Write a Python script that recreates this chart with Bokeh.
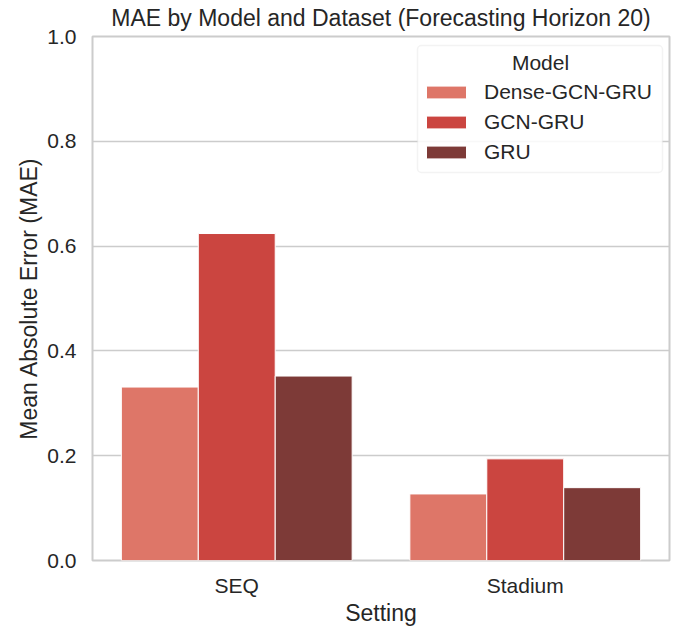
from bokeh.plotting import figure
from bokeh.models import (ColumnDataSource, FactorRange, Legend, LegendItem,
                          Label, BoxAnnotation, NumeralTickFormatter, FixedTicker)
from bokeh.transform import dodge
from bokeh.embed import file_html
from bokeh.resources import INLINE

# Data
settings = ["SEQ", "Stadium"]
models = ["Dense-GCN-GRU", "GCN-GRU", "GRU"]
mae_dense_gcn_gru = [0.331, 0.127]
mae_gcn_gru = [0.624, 0.194]
mae_gru = [0.352, 0.139]
colors = ["#de7668", "#cb4540", "#7d3a37"]
y_ticks = [0.0, 0.2, 0.4, 0.6, 0.8, 1.0]

FONT = "Liberation Sans"
TEXT = "#262626"
GRID = "#cccccc"

src = ColumnDataSource(dict(
    setting=settings,
    dense=mae_dense_gcn_gru,
    gcn=mae_gcn_gru,
    gru=mae_gru,
))

p = figure(
    x_range=FactorRange(*settings), y_range=(0, 1.0),
    width=676, height=630,
    output_backend="svg", toolbar_location=None,
    min_border_left=92, min_border_right=7,
    min_border_top=36, min_border_bottom=70,
    title="MAE by Model and Dataset (Forecasting Horizon 20)",
)
p.x_range.range_padding = 0

bar_w = 0.8 / 3
offsets = [-bar_w, 0.0, bar_w]
fields = ["dense", "gcn", "gru"]
renderers = []
for f, off, c in zip(fields, offsets, colors):
    r = p.vbar(x=dodge("setting", off, range=p.x_range), top=f, width=bar_w,
               source=src, fill_color=c, line_color="white", line_width=1)
    renderers.append(r)

# Title
p.title.text_font = FONT
p.title.text_font_size = "23px"
p.title.text_font_style = "normal"
p.title.text_color = TEXT
p.title.text_line_height = 1.0
p.title.align = "center"
p.title.vertical_align = "top"
p.title.standoff = 7

# Frame and grid
p.outline_line_color = GRID
p.outline_line_width = 2
p.xgrid.grid_line_color = None
p.ygrid.grid_line_color = GRID
p.ygrid.grid_line_width = 1.6
p.background_fill_color = "white"
p.border_fill_color = "white"

for ax in (p.xaxis[0], p.yaxis[0]):
    ax.axis_line_color = None
    ax.major_tick_line_color = None
    ax.minor_tick_line_color = None
    ax.major_tick_out = 0
    ax.major_tick_in = 0
    ax.minor_tick_out = 0
    ax.minor_tick_in = 0
    ax.major_label_text_font = FONT
    ax.major_label_text_font_size = "21px"
    ax.major_label_text_color = TEXT
    ax.axis_label_text_font = FONT
    ax.axis_label_text_font_size = "23px"
    ax.axis_label_text_font_style = "normal"
    ax.axis_label_text_color = TEXT

p.xaxis.axis_label = "Setting"
p.xaxis.major_label_standoff = 13
p.xaxis.axis_label_standoff = 0
p.yaxis.axis_label = "Mean Absolute Error (MAE)"
p.yaxis.major_label_standoff = 16
p.yaxis.axis_label_standoff = 2
p.yaxis.ticker = FixedTicker(ticks=y_ticks)
p.yaxis.formatter = NumeralTickFormatter(format="0.0")

# Legend frame (screen units, relative to the plot frame)
legend_box = BoxAnnotation(
    left=325, right=570, top=515, bottom=388,
    left_units="screen", right_units="screen",
    top_units="screen", bottom_units="screen",
    fill_color="white", fill_alpha=0.85,
    line_color="#d6d6d6", line_width=1.5, border_radius=4,
    level="underlay",
)
p.add_layout(legend_box)

legend = Legend(
    items=[LegendItem(label=m, renderers=[r]) for m, r in zip(models, renderers)],
    location=(329, 393),
    label_text_font=FONT, label_text_font_size="21px", label_text_color=TEXT,
    glyph_width=50, glyph_height=16, label_standoff=13, label_width=160,
    label_height=30, spacing=0, padding=6, margin=0,
    border_line_color=None, background_fill_alpha=0,
)
p.add_layout(legend, "center")

legend_title = Label(
    x=540 - 92, y=560 - 62, x_units="screen", y_units="screen",
    text="Model", text_font=FONT, text_font_size="21px", text_color=TEXT,
    text_align="center", text_baseline="middle", level="overlay",
)
p.add_layout(legend_title)

open("out.html", "w").write(file_html(p, INLINE))
